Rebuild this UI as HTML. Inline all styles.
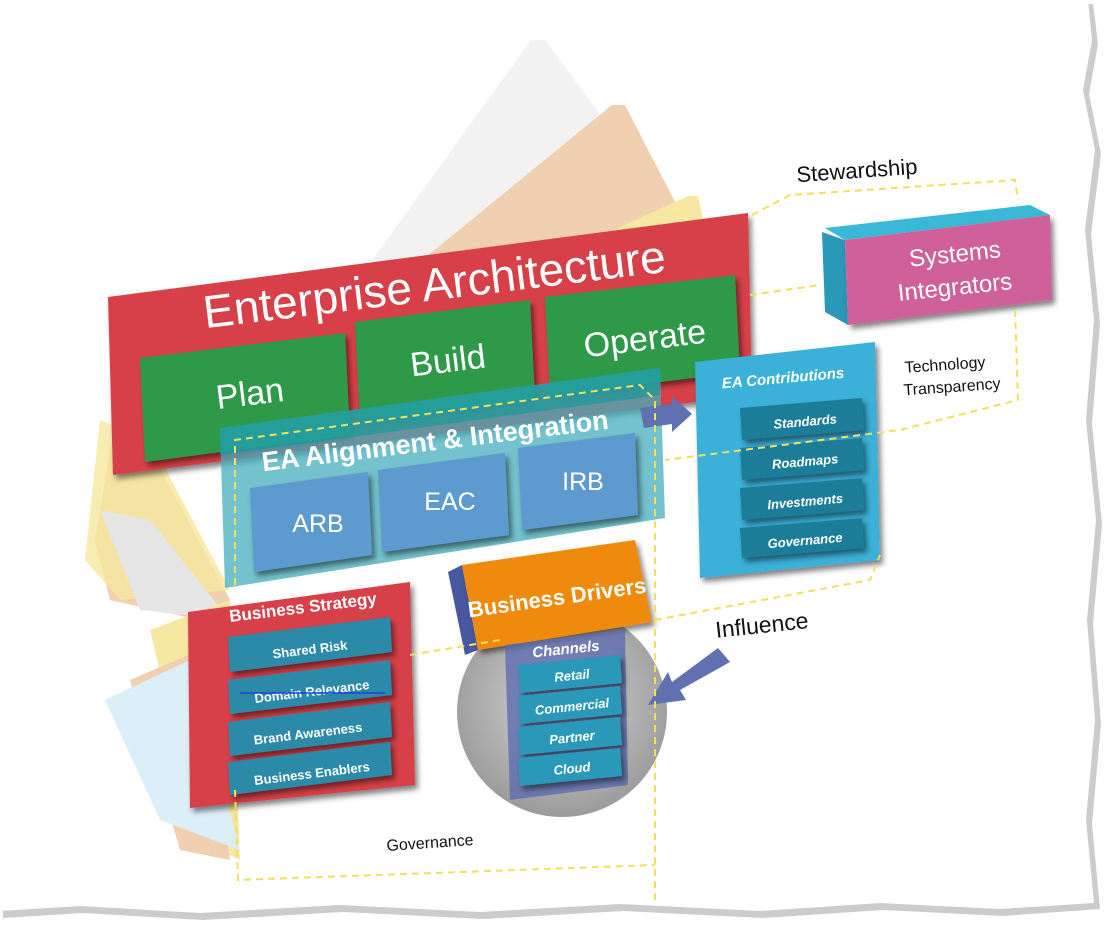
<!DOCTYPE html>
<html><head><meta charset="utf-8"><style>
html,body{margin:0;padding:0;background:#fff;}
svg{display:block;font-family:"Liberation Sans",sans-serif;}
</style></head><body>
<svg width="1108" height="929" viewBox="0 0 1108 929" xmlns="http://www.w3.org/2000/svg">
<defs>
<filter id="sh" x="-10%" y="-10%" width="130%" height="130%"><feGaussianBlur in="SourceAlpha" stdDeviation="3"/><feOffset dx="3" dy="4"/><feComponentTransfer><feFuncA type="linear" slope="0.5"/></feComponentTransfer><feMerge><feMergeNode/><feMergeNode in="SourceGraphic"/></feMerge></filter>
<radialGradient id="circ" cx="50%" cy="45%" r="55%"><stop offset="0" stop-color="#d0d0d0"/><stop offset="1" stop-color="#8a8a8a"/></radialGradient>
</defs>
<!-- torn paper shadow -->
<polygon points="0,0 1090,0 1095,40 1086,90 1098,150 1088,230 1097,320 1089,420 1099,520 1090,620 1098,720 1089,820 1097,905 1000,912 880,906 760,914 620,907 480,915 340,908 200,916 80,909 0,914" fill="#999" opacity="0.5" transform="translate(3,4)"/>
<polygon points="0,0 1088,0 1092,40 1083,90 1095,150 1085,230 1094,320 1086,420 1096,520 1087,620 1095,720 1086,820 1094,903 1000,909 880,903 760,911 620,904 480,912 340,905 200,913 80,906 0,911" fill="#fff"/>

<!-- background translucent sheets -->
<g opacity="0.5">
<polygon points="531,40 545,40 700,250 300,360" fill="#e4e4e4"/>
<polygon points="612,105 625,105 705,260 300,360" fill="#e0a060"/>
<polygon points="688,196 698,196 718,285 330,360" fill="#ecd040"/>
<polygon points="112,440 140,430 230,600 200,620 110,600 95,540" fill="#e0a060"/>
<polygon points="100,420 150,440 230,590 120,600 85,560" fill="#ecd040" opacity="0.8"/>
<polygon points="100,510 150,520 230,620 140,610" fill="#cccccc"/>
<polygon points="150,630 230,600 240,860 200,840" fill="#ecd040"/>
<polygon points="130,680 200,650 230,860 180,850" fill="#e0a060"/>
<polygon points="105,700 190,660 240,850 160,820" fill="#b8dcef"/>
</g>

<!-- Enterprise Architecture red -->
<polygon points="108,297 748,213 752,395 113,475" fill="#d8404a" filter="url(#sh)"/>
<text x="435" y="300" font-size="46" fill="#fff" text-anchor="middle" transform="rotate(-7 435 290)">Enterprise Architecture</text>
<!-- Green boxes -->
<g filter="url(#sh)">
<polygon points="140,358 345,333 350,435 145,462" fill="#2e9a4a"/>
<polygon points="355,322 530,300 535,398 360,422" fill="#2e9a4a"/>
<polygon points="545,297 735,275 740,372 550,396" fill="#2e9a4a"/>
</g>
<text x="250" y="405" font-size="34" fill="#fff" text-anchor="middle" transform="rotate(-7 250 395)">Plan</text>
<text x="448" y="372" font-size="34" fill="#fff" text-anchor="middle" transform="rotate(-7 448 362)">Build</text>
<text x="645" y="350" font-size="34" fill="#fff" text-anchor="middle" transform="rotate(-7 645 340)">Operate</text>

<!-- EA Alignment panel -->
<polygon points="220,428 660,368 665,518 225,588" fill="#44aebc" opacity="0.75"/>
<polygon points="220,428 660,368 660,395 220,455" fill="#1a9a98" opacity="0.7"/>
<text x="435" y="450" font-size="27" font-weight="bold" fill="#fff" text-anchor="middle" transform="rotate(-7 435 440)">EA Alignment &amp; Integration</text>
<g filter="url(#sh)">
<polygon points="250,488 368,472 372,555 254,572" fill="#5b9ad0"/>
<polygon points="378,470 505,453 509,535 382,552" fill="#5b9ad0"/>
<polygon points="518,448 635,433 638,515 522,530" fill="#5b9ad0"/>
</g>
<text x="318" y="532" font-size="25" fill="#fff" text-anchor="middle">ARB</text>
<text x="450" y="510" font-size="25" fill="#fff" text-anchor="middle">EAC</text>
<text x="583" y="490" font-size="25" fill="#fff" text-anchor="middle">IRB</text>
<!-- arrow -->
<polygon points="640,408 672,404 672,396 692,414 672,432 672,424 644,428" fill="#6070b0"/>

<!-- EA Contributions -->
<polygon points="695,362 875,342 880,560 700,578" fill="#3ab0d8" filter="url(#sh)"/>
<text x="783" y="383" font-size="15" font-weight="bold" font-style="italic" fill="#fff" text-anchor="middle" transform="rotate(-5 783 378)">EA Contributions</text>
<g fill="#1e7d98" filter="url(#sh)">
<polygon points="740,408 862,398 864,430 742,440"/>
<polygon points="740,448 862,438 864,470 742,480"/>
<polygon points="740,488 862,478 864,510 742,520"/>
<polygon points="740,528 862,518 864,548 742,558"/>
</g>
<g font-size="13" font-weight="bold" font-style="italic" fill="#fff" text-anchor="middle">
<text x="805" y="426" transform="rotate(-5 805 420)">Standards</text>
<text x="805" y="466" transform="rotate(-5 805 460)">Roadmaps</text>
<text x="805" y="506" transform="rotate(-5 805 500)">Investments</text>
<text x="805" y="545" transform="rotate(-5 805 540)">Governance</text>
</g>

<!-- Systems Integrators -->
<polygon points="825,228 1030,205 1050,215 845,240" fill="#3ab8d8"/>
<polygon points="822,232 845,240 848,325 825,312" fill="#2a98b8"/>
<polygon points="845,240 1050,215 1052,300 848,325" fill="#d0609a" filter="url(#sh)"/>
<text x="955" y="262" font-size="24" fill="#fff" text-anchor="middle" transform="rotate(-6 955 255)">Systems</text>
<text x="955" y="295" font-size="24" fill="#fff" text-anchor="middle" transform="rotate(-6 955 288)">Integrators</text>

<!-- Business Strategy -->
<polygon points="188,612 410,582 415,785 190,808" fill="#d8404a" filter="url(#sh)"/>
<text x="303" y="613" font-size="17" font-weight="bold" fill="#fff" text-anchor="middle" transform="rotate(-7 303 608)">Business Strategy</text>
<g fill="#2a8aa8" filter="url(#sh)">
<polygon points="228,637 390,617 392,652 230,672"/>
<polygon points="228,680 390,660 392,695 230,714"/>
<polygon points="228,722 390,702 392,737 230,756"/>
<polygon points="228,762 390,742 392,775 230,795"/>
</g>
<g font-size="13" font-weight="bold" fill="#fff" text-anchor="middle">
<text x="310" y="654" transform="rotate(-7 310 650)">Shared Risk</text>
<text x="312" y="696" transform="rotate(-7 312 692)">Domain Relevance</text>
<text x="308" y="738" transform="rotate(-7 308 734)">Brand Awareness</text>
<text x="312" y="778" transform="rotate(-7 312 774)">Business Enablers</text>
</g>
<line x1="240" y1="693" x2="385" y2="693" stroke="#2040e0" stroke-width="1.5"/>

<!-- circle -->
<circle cx="562" cy="712" r="105" fill="url(#circ)" opacity="0.85"/>
<!-- Business Drivers -->
<polygon points="448,572 462,565 478,650 465,655" fill="#4858a0"/>
<polygon points="462,565 635,540 652,622 478,650" fill="#f08a10" filter="url(#sh)"/>
<text x="557" y="605" font-size="22" font-weight="bold" fill="#fff" text-anchor="middle" transform="rotate(-8 557 598)">Business Drivers</text>
<polygon points="505,645 625,630 628,785 510,800" fill="#5a6ab0" opacity="0.75"/>
<text x="566" y="654" font-size="15" font-weight="bold" font-style="italic" fill="#fff" text-anchor="middle" transform="rotate(-6 566 650)">Channels</text>
<g fill="#2a98b8" filter="url(#sh)">
<polygon points="518,665 620,655 622,683 520,693"/>
<polygon points="518,696 620,686 622,714 520,724"/>
<polygon points="518,727 620,717 622,745 520,755"/>
<polygon points="518,758 620,748 622,776 520,786"/>
</g>
<g font-size="13" font-weight="bold" font-style="italic" fill="#fff" text-anchor="middle">
<text x="572" y="680" transform="rotate(-6 572 676)">Retail</text>
<text x="572" y="711" transform="rotate(-6 572 707)">Commercial</text>
<text x="572" y="742" transform="rotate(-6 572 738)">Partner</text>
<text x="572" y="773" transform="rotate(-6 572 769)">Cloud</text>
</g>
<!-- influence arrow -->
<polygon points="718,648 730,662 680,690 686,700 648,705 668,672 672,682" fill="#6070b0"/>

<!-- dashed loops -->
<g fill="none" stroke="#f0e060" stroke-width="2" stroke-dasharray="7,5">
<path d="M752,215 L790,195 L1015,180 L1018,200 M1015,310 L1018,400 L900,430 L665,460"/>
<path d="M750,295 L820,285"/>
<path d="M235,585 L235,440 L640,385 L655,400 L655,900"/>
<path d="M235,790 L238,880 L655,865"/>
<path d="M655,620 L870,580 L880,555"/>
<path d="M410,655 L500,640"/>
</g>

<!-- labels -->
<text x="857" y="178" font-size="22" fill="#111" text-anchor="middle" transform="rotate(-4 857 172)">Stewardship</text>
<text x="945" y="370" font-size="16" fill="#111" text-anchor="middle" transform="rotate(-4 945 365)">Technology</text>
<text x="952" y="392" font-size="16" fill="#111" text-anchor="middle" transform="rotate(-4 952 387)">Transparency</text>
<text x="762" y="633" font-size="23" fill="#111" text-anchor="middle" transform="rotate(-6 762 626)">Influence</text>
<text x="430" y="848" font-size="16" fill="#111" text-anchor="middle" transform="rotate(-4 430 843)">Governance</text>
</svg>
</body></html>
